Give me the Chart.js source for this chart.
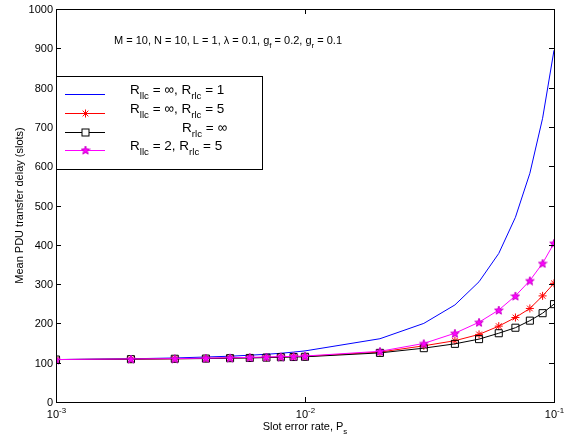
<!DOCTYPE html>
<html>
<head>
<meta charset="utf-8">
<script src="https://cdn.jsdelivr.net/npm/chart.js@4.4.1/dist/chart.umd.min.js"></script>
<style>
  html, body { margin: 0; padding: 0; background: #fff; }
  #wrap { width: 567px; height: 441px; }
</style>
</head>
<body>
<div id="wrap"><canvas id="c" width="567" height="441"></canvas></div>
<script>
// Slot error rate values (x axis, logarithmic)
const errorRates = [0.001, 0.002, 0.003, 0.004, 0.005, 0.006, 0.007, 0.008, 0.009,
                    0.01, 0.02, 0.03, 0.04, 0.05, 0.06, 0.07, 0.08, 0.09, 0.1];

// Mean PDU transfer delay (slots) for each configuration
const delayLlcInfRlc1 = [108, 110, 112, 114.5, 116.5, 119, 121.5, 124, 127,
                         130, 161, 200, 247, 306, 378, 470, 582, 722, 895];
const delayLlcInfRlc5 = [108, 109, 110, 111, 112, 113, 113.5, 114.5, 115.5,
                         116, 127, 143, 156, 172, 193, 215, 238, 270, 302];
const delayRlcInf     = [108, 109, 110, 110.5, 111.5, 112, 113, 114, 114.5,
                         115, 125, 137, 148, 160, 175, 189, 207, 226, 249];
const delayLlc2Rlc5   = [108, 109.5, 110.5, 111.5, 112.5, 113.5, 114.5, 115.5, 116,
                         117, 129, 149, 175, 203, 234, 270, 309, 353, 404];

// Axis tick labels
const yTicks = [0, 100, 200, 300, 400, 500, 600, 700, 800, 900, 1000];
const xTicks = [0.001, 0.01, 0.1];
const xTickExponents = ['-3', '-2', '-1'];

const FONT = '"Liberation Sans", Arial, Helvetica, sans-serif';

// Filled five-pointed star marker
function makePentagram(size, fill, stroke) {
  const c = document.createElement('canvas');
  c.width = size; c.height = size;
  const g = c.getContext('2d');
  const cx = size / 2, cy = size / 2 + 0.5;
  const R = size / 2 - 0.5, r = R * 0.42;
  g.beginPath();
  for (let i = 0; i < 10; i++) {
    const a = -Math.PI / 2 + i * Math.PI / 5;
    const rad = i % 2 === 0 ? R : r;
    const px = cx + rad * Math.cos(a), py = cy + rad * Math.sin(a);
    if (i === 0) g.moveTo(px, py); else g.lineTo(px, py);
  }
  g.closePath();
  g.fillStyle = fill;
  g.fill();
  g.lineWidth = 1;
  g.strokeStyle = stroke;
  g.stroke();
  return c;
}
const starImg = makePentagram(10, '#ff00ff', '#cc00cc');

function pts(ys) { return errorRates.map((x, i) => ({ x: x, y: ys[i] })); }

// Draws text with subscript / superscript runs
function richText(ctx, x, y, parts, size) {
  let cx = x;
  for (const p of parts) {
    const s = p.sub || p.sup ? size * 0.72 : size;
    ctx.font = s + 'px ' + FONT;
    const dy = p.sub ? size * 0.38 : (p.sup ? -size * 0.42 : 0);
    ctx.fillText(p.t, cx, y + dy);
    cx += ctx.measureText(p.t).width;
  }
  return cx;
}
function richWidth(ctx, parts, size) {
  let w = 0;
  for (const p of parts) {
    const s = p.sub || p.sup ? size * 0.72 : size;
    ctx.font = s + 'px ' + FONT;
    w += ctx.measureText(p.t).width;
  }
  return w;
}

const legendItems = [
  { color: '#0000ff', marker: null, xText: 130,
    parts: [{t:'R'},{t:'llc',sub:true},{t:' = \u221E, R'},{t:'rlc',sub:true},{t:' = 1'}] },
  { color: '#ff0000', marker: 'star', xText: 130,
    parts: [{t:'R'},{t:'llc',sub:true},{t:' = \u221E, R'},{t:'rlc',sub:true},{t:' = 5'}] },
  { color: '#000000', marker: 'rect', xText: 182,
    parts: [{t:'R'},{t:'rlc',sub:true},{t:' = \u221E'}] },
  { color: '#ff00ff', marker: 'pent', xText: 130,
    parts: [{t:'R'},{t:'llc',sub:true},{t:' = 2, R'},{t:'rlc',sub:true},{t:' = 5'}] }
];

const framePlugin = {
  id: 'frame',
  afterDraw(chart) {
    const ctx = chart.ctx;
    const a = chart.chartArea;
    const xs = chart.scales.x, ys = chart.scales.y;
    ctx.save();
    ctx.strokeStyle = '#000';
    ctx.lineWidth = 1;
    // box
    ctx.strokeRect(Math.round(a.left) + 0.5, Math.round(a.top) + 0.5,
                   Math.round(a.right - a.left), Math.round(a.bottom - a.top));
    // y ticks on both sides
    ctx.fillStyle = '#000';
    ctx.textAlign = 'right';
    ctx.textBaseline = 'middle';
    ctx.font = '11px ' + FONT;
    for (const v of yTicks) {
      const py = Math.round(ys.getPixelForValue(v)) + 0.5;
      ctx.beginPath();
      ctx.moveTo(a.left, py); ctx.lineTo(a.left + 5, py);
      ctx.moveTo(a.right, py); ctx.lineTo(a.right - 5, py);
      ctx.stroke();
      ctx.fillText(String(v), a.left - 3, py);
    }
    // x ticks on both sides
    ctx.textAlign = 'left';
    ctx.textBaseline = 'alphabetic';
    xTicks.forEach((v, i) => {
      const px = Math.round(xs.getPixelForValue(v)) + 0.5;
      ctx.beginPath();
      ctx.moveTo(px, a.bottom); ctx.lineTo(px, a.bottom - 5);
      ctx.moveTo(px, a.top); ctx.lineTo(px, a.top + 5);
      ctx.stroke();
      const parts = [{t:'10'},{t:xTickExponents[i],sup:true}];
      const w = richWidth(ctx, parts, 11);
      richText(ctx, px - w / 2, a.bottom + 16, parts, 11);
    });
    // axis titles
    const xt = [{t:'Slot error rate, P'},{t:'s',sub:true}];
    const xw = richWidth(ctx, xt, 11);
    richText(ctx, (a.left + a.right) / 2 - xw / 2, a.bottom + 28, xt, 11);
    ctx.save();
    ctx.translate(23, (a.top + a.bottom) / 2);
    ctx.rotate(-Math.PI / 2);
    ctx.textAlign = 'center';
    ctx.font = '11px ' + FONT;
    ctx.fillText('Mean PDU transfer delay (slots)', 0, 0);
    ctx.restore();
    // parameter annotation
    ctx.textAlign = 'left';
    richText(ctx, 114, 44, [
      {t:'M = 10, N = 10, L = 1, \u03BB = 0.1, g'},{t:'f',sub:true},
      {t:' = 0.2, g'},{t:'r',sub:true},{t:' = 0.1'}], 11);
    // legend box
    const lx = Math.round(a.left) + 0.5, ly = 76.5, lw = 206, lh = 93;
    ctx.fillStyle = '#fff';
    ctx.fillRect(lx, ly, lw, lh);
    ctx.strokeStyle = '#000';
    ctx.strokeRect(lx, ly, lw, lh);
    const rowsY = [94, 113, 132, 150];
    legendItems.forEach((it, i) => {
      const y = rowsY[i] + 0.5;
      ctx.strokeStyle = it.color;
      ctx.lineWidth = 1;
      ctx.beginPath();
      ctx.moveTo(65, y); ctx.lineTo(105, y);
      ctx.stroke();
      const mx = 85.5;
      if (it.marker === 'star') {
        ctx.beginPath();
        for (let k = 0; k < 4; k++) {
          const ang = k * Math.PI / 4;
          ctx.moveTo(mx - 4 * Math.cos(ang), y - 4 * Math.sin(ang));
          ctx.lineTo(mx + 4 * Math.cos(ang), y + 4 * Math.sin(ang));
        }
        ctx.stroke();
      } else if (it.marker === 'rect') {
        ctx.fillStyle = '#fff';
        ctx.fillRect(mx - 3.5, y - 3.5, 7, 7);
        ctx.strokeRect(mx - 3.5, y - 3.5, 7, 7);
      } else if (it.marker === 'pent') {
        ctx.drawImage(starImg, mx - 5, y - 5.5);
      }
      ctx.fillStyle = '#000';
      richText(ctx, it.xText, y - 1, it.parts, 13.5);
    });
    ctx.restore();
  }
};

new Chart(document.getElementById('c'), {
  type: 'line',
  data: {
    datasets: [
      { label: 'R_llc = inf, R_rlc = 1', data: pts(delayLlcInfRlc1),
        borderColor: '#0000ff', borderWidth: 1, pointRadius: 0, order: 3 },
      { label: 'R_llc = inf, R_rlc = 5', data: pts(delayLlcInfRlc5),
        borderColor: '#ff0000', borderWidth: 1, pointStyle: 'star', pointRadius: 4,
        pointBorderColor: '#ff0000', pointBorderWidth: 1, order: 2 },
      { label: 'R_rlc = inf', data: pts(delayRlcInf),
        borderColor: '#000000', borderWidth: 1, pointStyle: 'rect', pointRadius: 5,
        pointBorderColor: '#000000', pointBackgroundColor: 'rgba(0,0,0,0)',
        pointBorderWidth: 1, order: 1 },
      { label: 'R_llc = 2, R_rlc = 5', data: pts(delayLlc2Rlc5),
        borderColor: '#ff00ff', borderWidth: 1, pointStyle: starImg, order: 0 }
    ]
  },
  options: {
    responsive: false,
    animation: false,
    devicePixelRatio: 1,
    layout: { padding: { left: 56, right: 13, top: 9, bottom: 39 } },
    plugins: { legend: { display: false }, tooltip: { enabled: false } },
    elements: { line: { tension: 0 } },
    scales: {
      x: { type: 'logarithmic', min: 0.001, max: 0.1, display: false },
      y: { type: 'linear', min: 0, max: 1000, display: false }
    }
  },
  plugins: [framePlugin]
});
</script>
</body>
</html>
